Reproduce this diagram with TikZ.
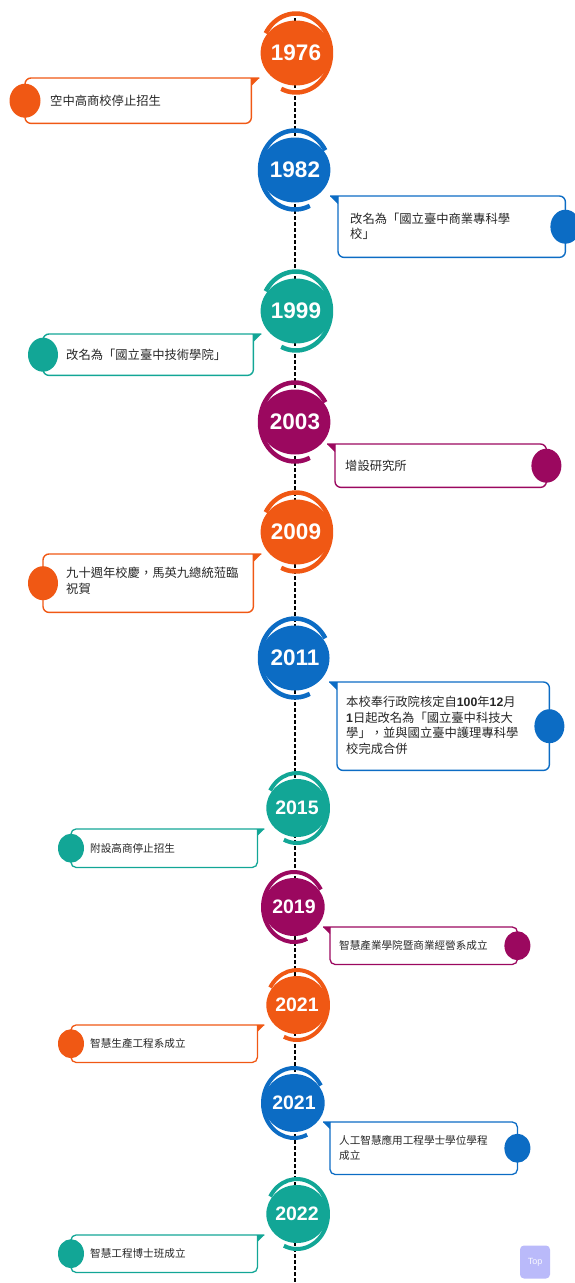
\documentclass[tikz,border=0pt]{standalone}
\usepackage{fontspec}
\newfontfamily\cjkfont{Noto Sans CJK TC}
\newfontfamily\yearfont{Liberation Sans}
\usetikzlibrary{shapes.geometric}
\definecolor{tlorange}{RGB}{240,88,20}
\definecolor{tlblue}{RGB}{12,108,196}
\definecolor{tlteal}{RGB}{18,166,150}
\definecolor{tlpurple}{RGB}{155,8,95}
\definecolor{tllilac}{RGB}{186,186,250}

\begin{document}
\begin{tikzpicture}[x=1pt, y=-1pt,
    spine/.style={line width=2.4pt, dash pattern=on 3.5pt off 2.5pt},
    bigyear/.style={shape=ellipse, inner sep=0, minimum width=57pt, minimum height=65pt, text=white, font=\yearfont\bfseries\fontsize{22.5}{22.5}\selectfont},
    smallyear/.style={shape=ellipse, inner sep=0, minimum width=51pt, minimum height=58pt, text=white, font=\yearfont\bfseries\fontsize{19.5}{19.5}\selectfont},
    bigring/.style={line width=4.5pt},
    smallring/.style={line width=4pt},
    evbox/.style={inner sep=0, anchor=north west},
    bigline/.style={line width=1.4pt, rounded corners=6pt},
    smallline/.style={line width=1.3pt, rounded corners=5pt},
    bigdot/.style={shape=ellipse, inner sep=0, minimum width=30pt, minimum height=34pt},
    smalldot/.style={shape=ellipse, inner sep=0, minimum width=26pt, minimum height=29pt},
    bigtxt/.style={anchor=west, inner sep=0, align=left, text=black!85, font=\cjkfont\fontsize{12.3}{15.5}\selectfont},
    smalltxt/.style={anchor=west, inner sep=0, align=left, text=black!85, font=\cjkfont\fontsize{10.6}{15}\selectfont},
    topbtn/.style={fill=tllilac, rounded corners=4pt, minimum width=30pt, minimum height=33pt, inner sep=0, text=white!92!tllilac, font=\yearfont\fontsize{9}{9}\selectfont}]

    \useasboundingbox (0,0) rectangle (574,1283);

    \coordinate (S0) at (295,12);
    \coordinate (S1) at (295,1283);
    \draw[spine] (S0) -- (S1);

    \node[bigyear, fill=tlorange] (A) at (296,53) {1976};
    \node[bigyear, fill=tlblue] (B) at (295,170) {1982};
    \node[bigyear, fill=tlteal] (C) at (296,311) {1999};
    \node[bigyear, fill=tlpurple] (D) at (295,422) {2003};
    \node[bigyear, fill=tlorange] (E) at (296,532) {2009};
    \node[bigyear, fill=tlblue] (F) at (295,658) {2011};
    \node[smallyear, fill=tlteal] (G) at (297,808) {2015};
    \node[smallyear, fill=tlpurple] (H) at (294,907) {2019};
    \node[smallyear, fill=tlorange] (I) at (297,1005) {2021};
    \node[smallyear, fill=tlblue] (J) at (294,1103) {2021};
    \node[smallyear, fill=tlteal] (K) at (297,1214) {2022};

    \draw[tlorange, bigring] (A.center) ++(115:35 and 39.5) arc[start angle=115, end angle=-150, x radius=35, y radius=39.5];
    \draw[tlblue, bigring] (B.center) ++(-30:35 and 39.5) arc[start angle=-30, end angle=-295, x radius=35, y radius=39.5];
    \draw[tlteal, bigring] (C.center) ++(115:35 and 39.5) arc[start angle=115, end angle=-150, x radius=35, y radius=39.5];
    \draw[tlpurple, bigring] (D.center) ++(-30:35 and 39.5) arc[start angle=-30, end angle=-295, x radius=35, y radius=39.5];
    \draw[tlorange, bigring] (E.center) ++(115:35 and 39.5) arc[start angle=115, end angle=-150, x radius=35, y radius=39.5];
    \draw[tlblue, bigring] (F.center) ++(-30:35 and 39.5) arc[start angle=-30, end angle=-295, x radius=35, y radius=39.5];
    \draw[tlteal, smallring] (G.center) ++(115:31 and 35) arc[start angle=115, end angle=-150, x radius=31, y radius=35];
    \draw[tlpurple, smallring] (H.center) ++(-30:31 and 35) arc[start angle=-30, end angle=-295, x radius=31, y radius=35];
    \draw[tlorange, smallring] (I.center) ++(115:31 and 35) arc[start angle=115, end angle=-150, x radius=31, y radius=35];
    \draw[tlblue, smallring] (J.center) ++(-30:31 and 35) arc[start angle=-30, end angle=-295, x radius=31, y radius=35];
    \draw[tlteal, smallring] (K.center) ++(115:31 and 35) arc[start angle=115, end angle=-150, x radius=31, y radius=35];

    \node[evbox, minimum width=226pt, minimum height=45pt] (Ab) at (25,78) {};
    \node[evbox, minimum width=227pt, minimum height=61pt] (Bb) at (338,196) {};
    \node[evbox, minimum width=210pt, minimum height=41pt] (Cb) at (43,334) {};
    \node[evbox, minimum width=211pt, minimum height=43pt] (Db) at (335,444) {};
    \node[evbox, minimum width=210pt, minimum height=58pt] (Eb) at (43,554) {};
    \node[evbox, minimum width=212pt, minimum height=88pt] (Fb) at (337,682) {};
    \node[evbox, minimum width=186pt, minimum height=38pt] (Gb) at (71,829) {};
    \node[evbox, minimum width=187pt, minimum height=37pt] (Hb) at (330,927) {};
    \node[evbox, minimum width=186pt, minimum height=37pt] (Ib) at (71,1025) {};
    \node[evbox, minimum width=187pt, minimum height=52pt] (Jb) at (330,1122) {};
    \node[evbox, minimum width=186pt, minimum height=37pt] (Kb) at (71,1235) {};

    \draw[tlorange, bigline] ([xshift=8pt]Ab.north east) -- (Ab.north west) -- (Ab.south west) -- (Ab.south east) -- (Ab.north east);
    \draw[tlblue, bigline] ([xshift=-8pt]Bb.north west) -- (Bb.north east) -- (Bb.south east) -- (Bb.south west) -- (Bb.north west);
    \draw[tlteal, bigline] ([xshift=8pt]Cb.north east) -- (Cb.north west) -- (Cb.south west) -- (Cb.south east) -- (Cb.north east);
    \draw[tlpurple, bigline] ([xshift=-8pt]Db.north west) -- (Db.north east) -- (Db.south east) -- (Db.south west) -- (Db.north west);
    \draw[tlorange, bigline] ([xshift=8pt]Eb.north east) -- (Eb.north west) -- (Eb.south west) -- (Eb.south east) -- (Eb.north east);
    \draw[tlblue, bigline] ([xshift=-8pt]Fb.north west) -- (Fb.north east) -- (Fb.south east) -- (Fb.south west) -- (Fb.north west);
    \draw[tlteal, smallline] ([xshift=7pt]Gb.north east) -- (Gb.north west) -- (Gb.south west) -- (Gb.south east) -- (Gb.north east);
    \draw[tlpurple, smallline] ([xshift=-7pt]Hb.north west) -- (Hb.north east) -- (Hb.south east) -- (Hb.south west) -- (Hb.north west);
    \draw[tlorange, smallline] ([xshift=7pt]Ib.north east) -- (Ib.north west) -- (Ib.south west) -- (Ib.south east) -- (Ib.north east);
    \draw[tlblue, smallline] ([xshift=-7pt]Jb.north west) -- (Jb.north east) -- (Jb.south east) -- (Jb.south west) -- (Jb.north west);
    \draw[tlteal, smallline] ([xshift=7pt]Kb.north east) -- (Kb.north west) -- (Kb.south west) -- (Kb.south east) -- (Kb.north east);

    \fill[tlorange] ([xshift=8pt]Ab.north east) -- (Ab.north east) -- ([yshift=-8pt]Ab.north east) -- cycle;
    \fill[tlblue] ([xshift=-8pt]Bb.north west) -- (Bb.north west) -- ([yshift=-8pt]Bb.north west) -- cycle;
    \fill[tlteal] ([xshift=8pt]Cb.north east) -- (Cb.north east) -- ([yshift=-8pt]Cb.north east) -- cycle;
    \fill[tlpurple] ([xshift=-8pt]Db.north west) -- (Db.north west) -- ([yshift=-8pt]Db.north west) -- cycle;
    \fill[tlorange] ([xshift=8pt]Eb.north east) -- (Eb.north east) -- ([yshift=-8pt]Eb.north east) -- cycle;
    \fill[tlblue] ([xshift=-8pt]Fb.north west) -- (Fb.north west) -- ([yshift=-8pt]Fb.north west) -- cycle;
    \fill[tlteal] ([xshift=7pt]Gb.north east) -- (Gb.north east) -- ([yshift=-7pt]Gb.north east) -- cycle;
    \fill[tlpurple] ([xshift=-7pt]Hb.north west) -- (Hb.north west) -- ([yshift=-7pt]Hb.north west) -- cycle;
    \fill[tlorange] ([xshift=7pt]Ib.north east) -- (Ib.north east) -- ([yshift=-7pt]Ib.north east) -- cycle;
    \fill[tlblue] ([xshift=-7pt]Jb.north west) -- (Jb.north west) -- ([yshift=-7pt]Jb.north west) -- cycle;
    \fill[tlteal] ([xshift=7pt]Kb.north east) -- (Kb.north east) -- ([yshift=-7pt]Kb.north east) -- cycle;

    \node[bigdot, fill=tlorange, minimum width=31pt] (Ad) at (Ab.west) {};
    \node[bigdot, fill=tlblue] (Bd) at (Bb.east) {};
    \node[bigdot, fill=tlteal] (Cd) at (Cb.west) {};
    \node[bigdot, fill=tlpurple] (Dd) at (Db.east) {};
    \node[bigdot, fill=tlorange] (Ed) at (Eb.west) {};
    \node[bigdot, fill=tlblue] (Fd) at (Fb.east) {};
    \node[smalldot, fill=tlteal] (Gd) at (Gb.west) {};
    \node[smalldot, fill=tlpurple] (Hd) at (Hb.east) {};
    \node[smalldot, fill=tlorange] (Id) at (Ib.west) {};
    \node[smalldot, fill=tlblue] (Jd) at (Jb.east) {};
    \node[smalldot, fill=tlteal] (Kd) at (Kb.west) {};

    \node[bigtxt] (At) at (50,100.5) {空中高商校停止招生};
    \node[bigtxt] (Bt) at (350,226.5) {改名為「國立臺中商業專科學\\校」};
    \node[bigtxt] (Ct) at (66,354.5) {改名為「國立臺中技術學院」};
    \node[bigtxt] (Dt) at (345,465.5) {增設研究所};
    \node[bigtxt] (Et) at (66,581) {九十週年校慶，馬英九總統蒞臨\\祝賀};
    \node[bigtxt] (Ft) at (346,725.5) {本校奉行政院核定自{\yearfont\bfseries 100}年{\yearfont\bfseries 12}月\\{\yearfont\bfseries 1}日起改名為「國立臺中科技大\\學」，並與國立臺中護理專科學\\校完成合併};
    \node[smalltxt] (Gt) at (90,848) {附設高商停止招生};
    \node[smalltxt] (Ht) at (339,945.5) {智慧產業學院暨商業經營系成立};
    \node[smalltxt] (It) at (90,1043.5) {智慧生產工程系成立};
    \node[smalltxt] (Jt) at (339,1147.5) {人工智慧應用工程學士學位學程\\成立};
    \node[smalltxt] (Kt) at (90,1253.5) {智慧工程博士班成立};

    \node[topbtn] (T) at (535,1262) {Top};
\end{tikzpicture}
\end{document}
